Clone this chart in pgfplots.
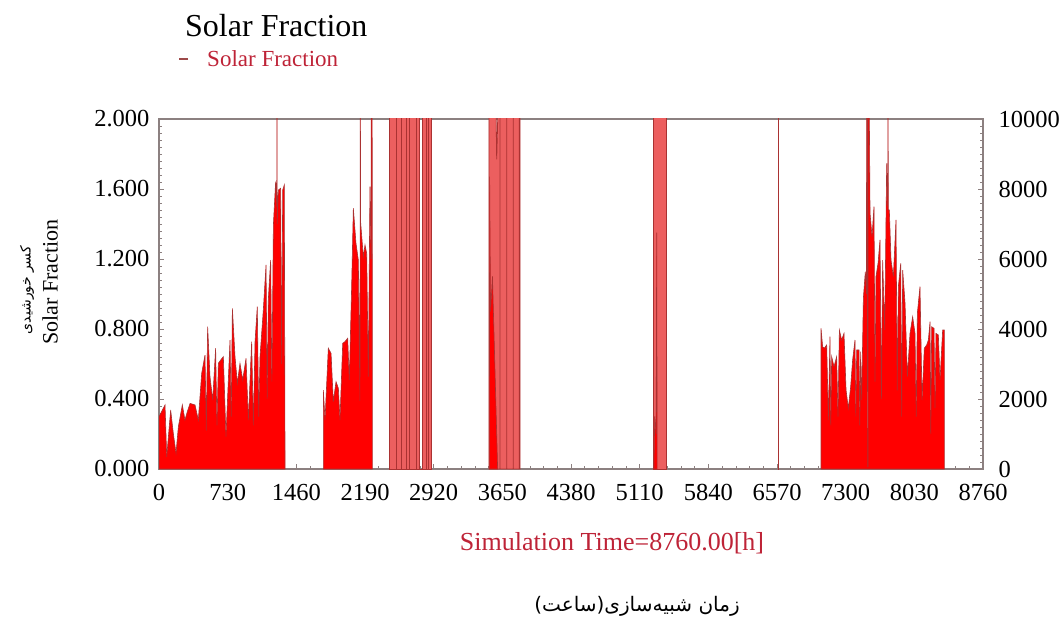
\documentclass[border=0pt]{standalone}
\usepackage{pgfplots}
\pgfplotsset{compat=1.18}
\usepackage{pgfplotstable}
\usepackage{fontspec}
\setmainfont{Liberation Serif}
\newfontfamily\arabicfont[Script=Arabic]{DejaVu Sans}
\TeXXeTstate=1
\definecolor{sfred}{RGB}{255,0,0}
\definecolor{sfline}{RGB}{170,50,50}
\definecolor{sfband}{RGB}{236,95,95}
\definecolor{labred}{RGB}{190,35,55}
\definecolor{axgray}{RGB}{140,128,128}

% --- main (bright red) sections ---
\pgfplotstableread{
x y
0 0
0 0.299
64 0.366
82 0.070
124 0.337
152 0.204
181 0.090
206 0.242
248 0.366
276 0.280
301 0.328
330 0.375
383 0.366
418 0.280
454 0.547
489 0.651
503 0.220
517 0.813
542 0.528
571 0.394
602 0.690
616 0.250
631 0.604
656 0.623
684 0.642
712 0.185
755 0.737
768 0.300
780 0.918
808 0.642
833 0.490
861 0.604
890 0.509
925 0.632
950 0.280
985 0.728
1003 0.250
1021 0.728
1045 0.928
1060 0.300
1074 0.642
1109 0.909
1138 1.166
1150 0.400
1162 0.966
1187 1.194
1200 0.500
1216 1.394
1240 1.642
1252 1.500
1254 2.500
1257 1.400
1269 1.594
1293 1.604
1304 0.600
1315 1.594
1332 1.623
1340 0
}\secA
\pgfplotstableread{
x y
1747 0
1747 0.451
1765 0.280
1800 0.690
1829 0.661
1853 0.385
1882 0.499
1907 0.461
1924 0.280
1953 0.718
1977 0.728
2006 0.747
2023 0.509
2048 1.042
2066 1.490
2094 1.290
2119 1.194
2136 0.390
2140 2.500
2143 1.413
2172 1.213
2190 1.280
2208 1.232
2225 0.528
2243 1.613
2254 1.200
2257 2.500
2266 2.500
2268 0
}\secB
\pgfplotstableread{
x y
3512 0
3515 1.670
3525 0.900
3545 1.100
3565 0.700
3585 0.300
3600 0
}\secDb
\pgfplotstableread{
x y
5262 0
5270 0.300
5285 0.200
5291 1.350
5296 0
}\secEb
\pgfplotstableread{
x y
7038 0
7038 0.804
7055 0.699
7073 0.690
7098 0.709
7116 0.280
7133 0.756
7142 0.250
7151 0.642
7176 0.585
7204 0.642
7218 0.300
7233 0.794
7257 0.737
7282 0.775
7304 0.451
7328 0.347
7353 0.470
7374 0.623
7399 0.737
7408 0.300
7417 0.680
7442 0.680
7450 0.250
7459 0.670
7470 0.394
7488 0.975
7509 1.128
7521 1.000
7523 2.500
7530 2.500
7533 0.013
7537 0.013
7540 2.500
7545 2.500
7559 1.461
7580 1.328
7601 1.499
7612 0.500
7622 1.099
7644 1.175
7665 1.309
7680 0.400
7693 1.194
7715 0.794
7736 1.747
7748 1.500
7750 2.500
7753 1.480
7764 1.480
7782 1.194
7807 1.099
7835 1.423
7848 0.450
7860 1.042
7885 1.175
7895 0.300
7906 1.137
7931 0.947
7956 0.528
7984 0.775
8012 0.870
8037 0.775
8050 0.300
8062 0.890
8090 1.042
8112 0.394
8136 0.690
8161 0.709
8179 0.737
8197 0.842
8205 0.200
8214 0.813
8239 0.804
8250 0.350
8260 0.775
8285 0.766
8303 0.509
8331 0.794
8349 0.794
8349 0
}\secG
% --- saturated bands (values above the axis top) ---
\pgfplotstableread{
x y
2449 0
2449 2.5
2519 2.5
2519 0
2519 2.5
2580 2.5
2580 0
2580 2.5
2633 2.5
2633 0
2633 2.5
2661 2.5
2661 0
2661 2.5
2739 2.5
2739 0
2739 2.5
2768 2.5
2768 0
2803 0
2803 2.5
2838 2.5
2838 0
2838 2.5
2863 2.5
2863 0
2863 2.5
2899 2.5
2899 0
}\secC
\pgfplotstableread{
x y
3508 0
3508 2.5
3572 2.5
3590 1.77
3625 2.5
3625 0
3625 2.5
3696 2.5
3696 0
3696 2.5
3767 2.5
3767 0
3767 2.5
3831 2.5
3831 0
3831 2.5
3838 2.5
3838 0
}\secD
\pgfplotstableread{
x y
5255 0
5255 2.5
5390 2.5
5390 0
}\secE
\pgfplotstableread{
x y
6582 0
6582 2.5
6586 2.5
6586 0
}\secF

\begin{document}
\begin{tikzpicture}
\path[use as bounding box] (0,0) rectangle (1062pt,621pt);
\begin{axis}[
  at={(159pt,152pt)}, anchor=south west,
  scale only axis, width=824pt, height=350pt,
  xmin=0, xmax=8760, ymin=0, ymax=2,
  xtick={0,730,1460,2190,2920,3650,4380,5110,5840,6570,7300,8030,8760},
  ytick={0,0.4,0.8,1.2,1.6,2},
  minor x tick num=4, minor y tick num=9,
  xtick pos=bottom, ytick pos=left,
  tick align=inside, major tick length=5pt, minor tick length=3pt,
  tick style={axgray, line width=0.6pt},
  axis line style={axgray, line width=1.3pt},
  /pgf/number format/assume math mode=true,
  tick label style={font=\fontsize{24.5}{28}\selectfont},
  xticklabel style={yshift=-12pt, /pgf/number format/1000 sep={}},
  yticklabel style={xshift=-6pt, /pgf/number format/.cd, fixed, fixed zerofill, precision=3},
  legend style={at={(0.0231,1.1714)}, anchor=west, draw=none, fill=none,
    inner sep=0pt, font=\fontsize{23}{26}\selectfont, text=labred,
    /tikz/every odd column/.append style={column sep=16pt}},
  legend image code/.code={\draw[draw=sfline!70!gray, line width=2pt] (0pt,0pt) -- (9pt,0pt);},
  clip=true,
]
\addplot[fill=sfred, draw=sfline, line width=0.6pt] table[x=x,y=y] {\secA} \closedcycle;
\addlegendentry{Solar Fraction}
\addplot[forget plot, fill=sfband, draw=sfline, line width=0.8pt] table[x=x,y=y] {\secC} \closedcycle;
\addplot[forget plot, fill=sfband, draw=sfline, line width=0.8pt] table[x=x,y=y] {\secD} \closedcycle;
\addplot[forget plot, fill=sfband, draw=sfline, line width=0.8pt] table[x=x,y=y] {\secE} \closedcycle;
\addplot[forget plot, fill=sfline, draw=sfline, line width=0.8pt] table[x=x,y=y] {\secF} \closedcycle;
\addplot[forget plot, fill=sfred, draw=sfline, line width=0.6pt] table[x=x,y=y] {\secB} \closedcycle;
\addplot[forget plot, fill=sfred, draw=sfline, line width=0.6pt] table[x=x,y=y] {\secDb} \closedcycle;
\addplot[forget plot, fill=sfred, draw=sfline, line width=0.6pt] table[x=x,y=y] {\secEb} \closedcycle;
\addplot[forget plot, fill=sfred, draw=sfline, line width=0.6pt] table[x=x,y=y] {\secG} \closedcycle;
\end{axis}
\begin{axis}[
  at={(159pt,152pt)}, anchor=south west,
  scale only axis, width=824pt, height=350pt,
  xmin=0, xmax=8760, ymin=0, ymax=10000,
  axis x line=none, axis y line*=right,
  ytick={0,2000,4000,6000,8000,10000},
  minor y tick num=9,
  tick align=inside, major tick length=5pt, minor tick length=3pt,
  tick style={axgray, line width=0.6pt},
  axis line style={axgray, line width=1.3pt},
  /pgf/number format/assume math mode=true,
  scaled y ticks=false,
  yticklabel style={font=\fontsize{24.5}{28}\selectfont, anchor=west, xshift=12pt, /pgf/number format/1000 sep={}},
]
\addplot[draw=none, forget plot] coordinates {(0,0)};
\end{axis}
% titles and labels
\node[anchor=base west, inner sep=0pt, font=\fontsize{32}{36}\selectfont] at (185pt,584pt) {Solar Fraction};
\node[inner sep=0pt, text=labred, font=\fontsize{26}{30}\selectfont] at (612pt,78pt) {Simulation Time=8760.00[h]};
\node[inner sep=0pt, font=\fontsize{20}{24}\arabicfont] at (637pt,15pt) {\beginR زمان شبیه‌سازی(ساعت)\endR};
\node[inner sep=0pt, rotate=90, font=\fontsize{22}{26}\selectfont] at (50pt,339pt) {Solar Fraction};
\node[inner sep=0pt, rotate=90, font=\fontsize{14}{18}\arabicfont] at (27pt,331pt) {\beginR کسر خورشیدی\endR};
\end{tikzpicture}
\end{document}
